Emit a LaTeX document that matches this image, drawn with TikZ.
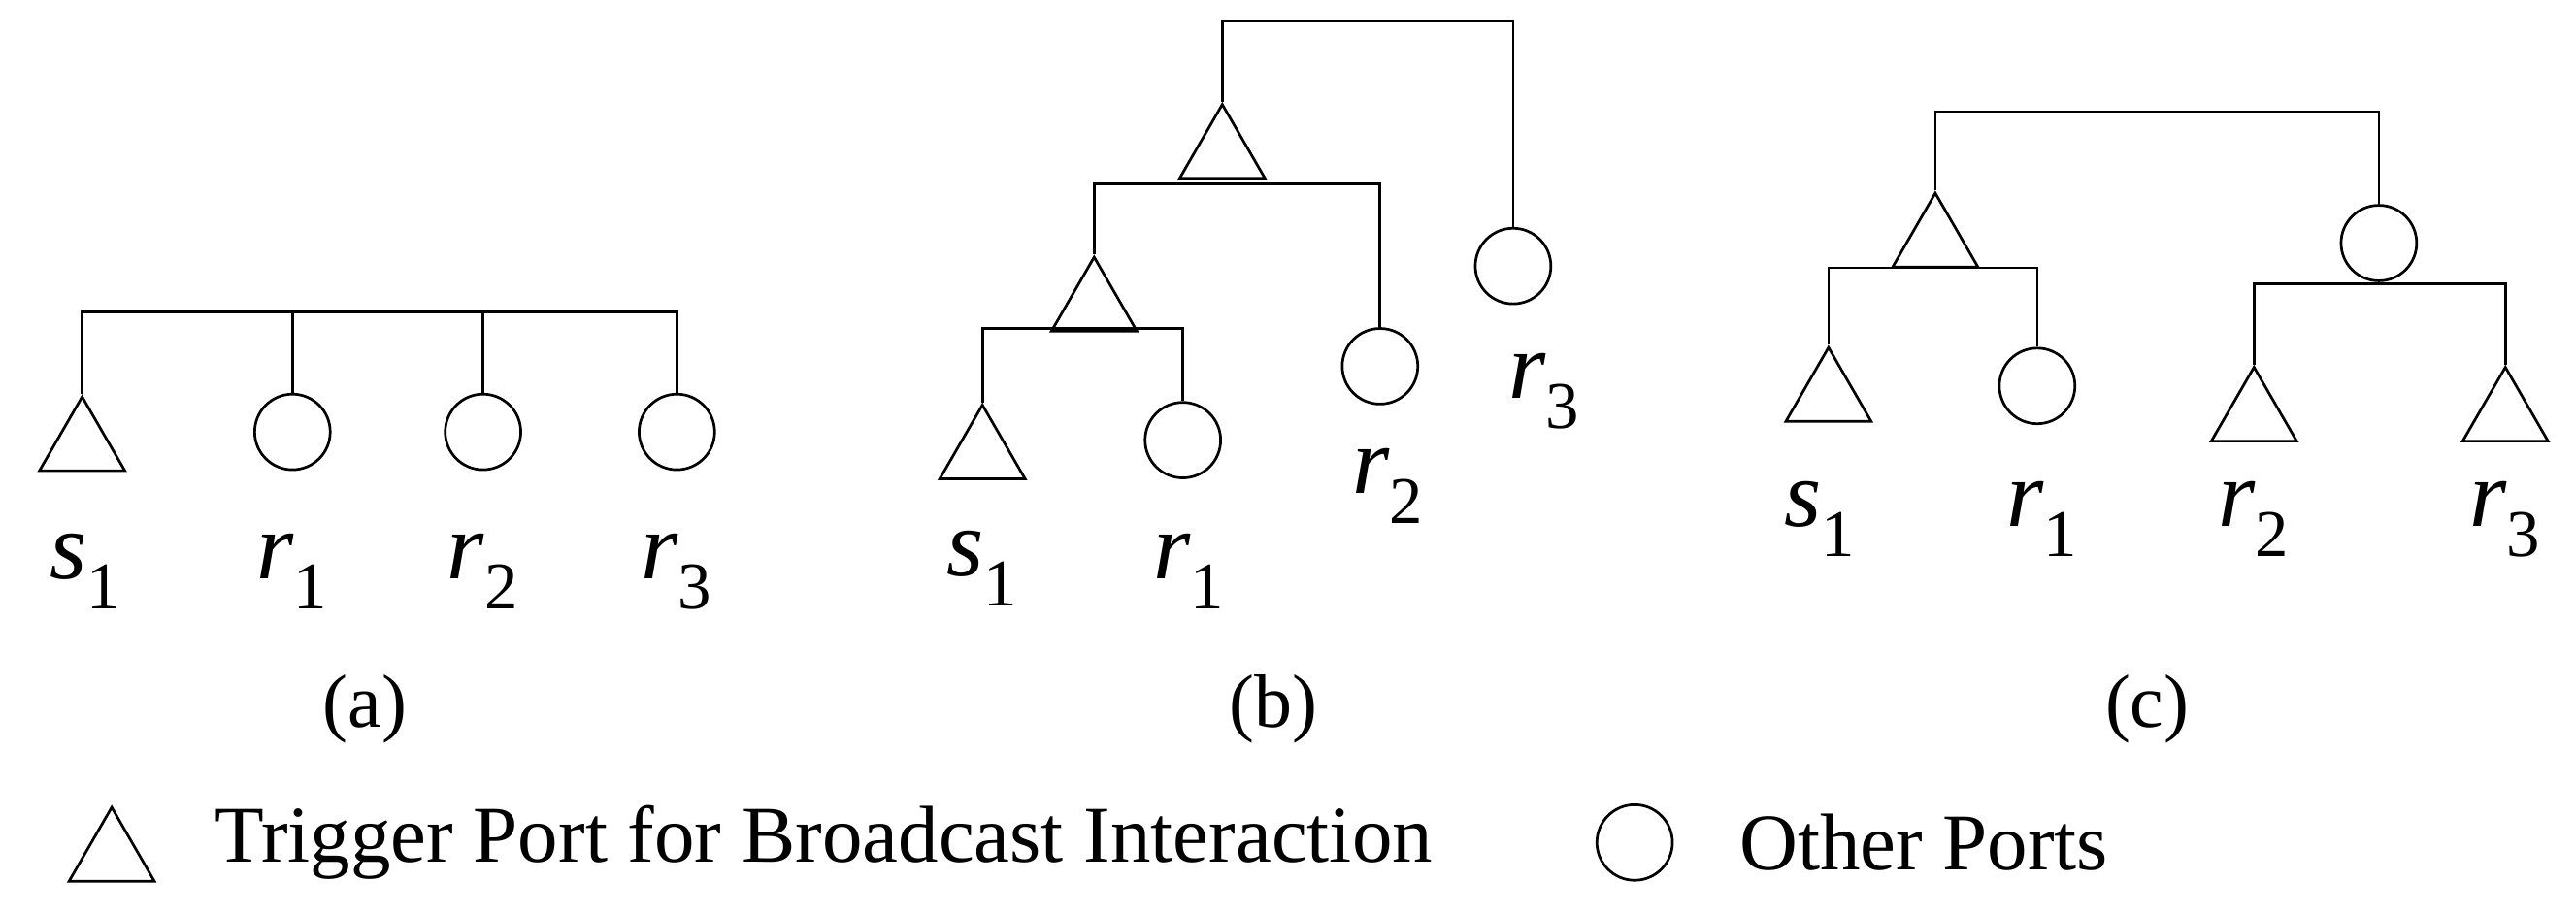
\documentclass[tikz,border=0pt]{standalone}
\usepackage{fontspec}
\setmainfont{Liberation Serif}
\usetikzlibrary{shapes.geometric}
\begin{document}
\begin{tikzpicture}[x=1pt,y=-1pt,line width=1.6pt,
  tri/.style={regular polygon,regular polygon sides=3,draw,minimum size=60pt,inner sep=0pt,anchor=north},
  cir/.style={circle,draw,minimum size=46pt,inner sep=0pt},
  lab/.style={font=\fontsize{58}{64}\selectfont\itshape,inner sep=0pt},
  captxt/.style={font=\fontsize{46}{52}\selectfont,inner sep=0pt},
  leg/.style={font=\fontsize{49}{54}\selectfont,inner sep=0pt,anchor=west}]
\useasboundingbox (0,0) rectangle (1568,556);
% (a)
\node[tri] (as) at (50,240) {};
\node[cir] (ar1) at (178,263) {};
\node[cir] (ar2) at (294,263) {};
\node[cir] (ar3) at (412,263) {};
\coordinate (ja) at (52,190);
\draw (as.north) |- (ar3.north |- ja) -- (ar3.north);
\draw (ar1.north) -- (ar1.north |- ja);
\draw (ar2.north) -- (ar2.north |- ja);
\node[lab] (las) at (52,348) {s\textsubscript{\upshape 1}};
\node[lab] (lar1) at (178,348) {r\textsubscript{\upshape 1}};
\node[lab] (lar2) at (294,348) {r\textsubscript{\upshape 2}};
\node[lab] (lar3) at (412,348) {r\textsubscript{\upshape 3}};
\node[captxt] (ca) at (222,432) {(a)};
% (b)
\node[tri] (bt1) at (744,62) {};
\node[cir] (br3) at (921,162) {};
\coordinate (jb1) at (744,13);
\draw (bt1.north) |- (br3.north |- jb1) -- (br3.north);
\node[tri] (bt2) at (666,155) {};
\node[cir] (br2) at (840,223) {};
\coordinate (jb2) at (744,112);
\draw (bt2.north) |- (br2.north |- jb2) -- (br2.north);
\node[tri] (bs) at (598,245) {};
\node[cir] (br1) at (720,268) {};
\coordinate (jb3) at (666,200);
\draw (bs.north) |- (br1.north |- jb3) -- (br1.north);
\node[lab] (lbs) at (598,346) {s\textsubscript{\upshape 1}};
\node[lab] (lbr1) at (724,348) {r\textsubscript{\upshape 1}};
\node[lab] (lbr2) at (845,296) {r\textsubscript{\upshape 2}};
\node[lab] (lbr3) at (940,238) {r\textsubscript{\upshape 3}};
\node[captxt] (cb) at (775,432) {(b)};
% (c)
\node[tri] (ct1) at (1178,116) {};
\node[cir] (cc1) at (1448,148) {};
\coordinate (jc1) at (1178,68);
\draw (ct1.north) |- (cc1.north |- jc1) -- (cc1.north);
\node[tri] (cs) at (1113,210) {};
\node[cir] (cr1) at (1240,235) {};
\coordinate (jc2) at (1178,163);
\draw (cs.north) |- (cr1.north |- jc2) -- (cr1.north);
\node[tri] (cr2) at (1372,222) {};
\node[tri] (cr3) at (1525,222) {};
\coordinate (jc3) at (1448,173);
\draw (cr2.north) |- (cr3.north |- jc3) -- (cr3.north);
\draw (cc1.south) -- (jc3);
\node[lab] (lcs) at (1108,316) {s\textsubscript{\upshape 1}};
\node[lab] (lcr1) at (1243,316) {r\textsubscript{\upshape 1}};
\node[lab] (lcr2) at (1372,316) {r\textsubscript{\upshape 2}};
\node[lab] (lcr3) at (1525,316) {r\textsubscript{\upshape 3}};
\node[captxt] (cc) at (1307,432) {(c)};
% legend
\node[tri] (lt) at (68,490) {};
\node[leg] (lt1) at (130,513) {Trigger Port for Broadcast Interaction};
\node[cir] (lc) at (995,513) {};
\node[leg] (lt2) at (1058,513) {Other Ports};
\end{tikzpicture}
\end{document}
